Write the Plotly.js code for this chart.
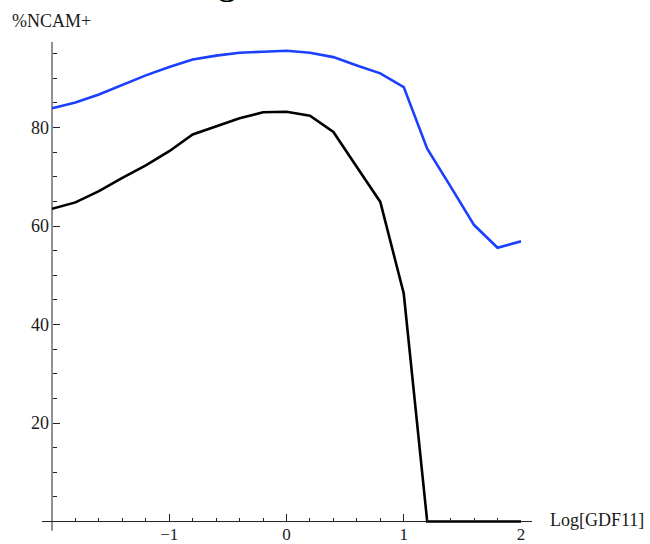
<!DOCTYPE html>
<html>
<head>
<meta charset="utf-8">
<script src="https://cdn.plot.ly/plotly-3.0.1.min.js"></script>
<style>html,body{margin:0;padding:0;background:#fff;}</style>
</head>
<body>
<div id="chart" style="width:650px;height:544px;"></div>
<script>
// Data
const logGDF11 = [-2.0, -1.8, -1.6, -1.4, -1.2, -1.0, -0.8, -0.6, -0.4, -0.2, 0.0, 0.2, 0.4, 0.6, 0.8, 1.0, 1.2, 1.4, 1.6, 1.8, 2.0];
const blueSeries = [83.9, 85.1, 86.7, 88.6, 90.6, 92.3, 93.8, 94.6, 95.2, 95.4, 95.6, 95.2, 94.3, 92.6, 91.0, 88.2, 75.7, 68.0, 60.2, 55.6, 56.9];
const blackSeries = [63.5, 64.8, 67.1, 69.8, 72.3, 75.2, 78.6, 80.3, 81.9, 83.1, 83.2, 82.4, 79.1, 72.0, 64.9, 46.3, 0.0, 0.0, 0.0, 0.0, 0.0];
const xTickVals = [-1, 0, 1, 2];
const yTickVals = [20, 40, 60, 80];
const xLabel = "Log[GDF11]";
const yLabel = "%NCAM+";

const traces = [
  {x: logGDF11, y: blueSeries, type: 'scatter', mode: 'lines',
   line: {color: '#1b3fff', width: 2.6}, hoverinfo: 'skip'},
  {x: logGDF11, y: blackSeries, type: 'scatter', mode: 'lines',
   line: {color: '#000000', width: 2.6}, hoverinfo: 'skip'}
];

const zeroPos = 0.5 / 97.87;
const axisColor = '#222222';

const layout = {
  width: 650, height: 544,
  margin: {l: 52, r: 129, t: 42, b: 20, pad: 0},
  paper_bgcolor: '#ffffff', plot_bgcolor: '#ffffff',
  showlegend: false,
  font: {family: 'Liberation Serif, Times New Roman, serif', size: 18, color: '#1a1a1a'},
  xaxis: {
    range: [-2, 2], anchor: 'free', position: zeroPos,
    tickmode: 'array', tickvals: xTickVals, ticklabelstandoff: 0,
    tickfont: {size: 17},
    ticks: 'inside', ticklen: 8, tickwidth: 1, tickcolor: axisColor,
    showgrid: false, zeroline: false, showline: false,
    minor: {tickmode: 'linear', tick0: 0, dtick: 0.2, ticks: 'inside', ticklen: 4, tickwidth: 1, tickcolor: axisColor, showgrid: false}
  },
  yaxis: {
    range: [-0.5, 97.37], anchor: 'free', position: 0,
    tickmode: 'array', tickvals: yTickVals, ticklabelstandoff: 3,
    ticks: 'inside', ticklen: 7, tickwidth: 1, tickcolor: axisColor,
    showgrid: false, zeroline: false, showline: false,
    minor: {tickmode: 'linear', tick0: 0, dtick: 5, ticks: 'inside', ticklen: 4, tickwidth: 1, tickcolor: axisColor, showgrid: false}
  },
  shapes: [
    {type: 'line', xref: 'paper', yref: 'paper', x0: -0.0213, x1: 1.0235, y0: zeroPos, y1: zeroPos,
     line: {color: axisColor, width: 1}, layer: 'below'},
    {type: 'line', xref: 'paper', yref: 'paper', x0: 0, x1: 0, y0: -0.0139, y1: 1.0,
     line: {color: axisColor, width: 1}, layer: 'below'}
  ],
  annotations: [
    {text: yLabel, xref: 'paper', yref: 'paper', x: -0.0887, y: 1.0436, xanchor: 'left', yanchor: 'middle',
     showarrow: false, font: {size: 18}},
    {text: xLabel, xref: 'paper', yref: 'paper', x: 1.0576, y: 0.0083, xanchor: 'left', yanchor: 'middle',
     showarrow: false, font: {size: 18}},
    {text: 'g', xref: 'paper', yref: 'paper', x: (227 - 52) / 469, y: (524 + 21) / 482, xanchor: 'center', yanchor: 'middle',
     showarrow: false, font: {size: 40, color: '#000000'}}
  ]
};

Plotly.newPlot('chart', traces, layout, {staticPlot: true, displayModeBar: false});
</script>
</body>
</html>
